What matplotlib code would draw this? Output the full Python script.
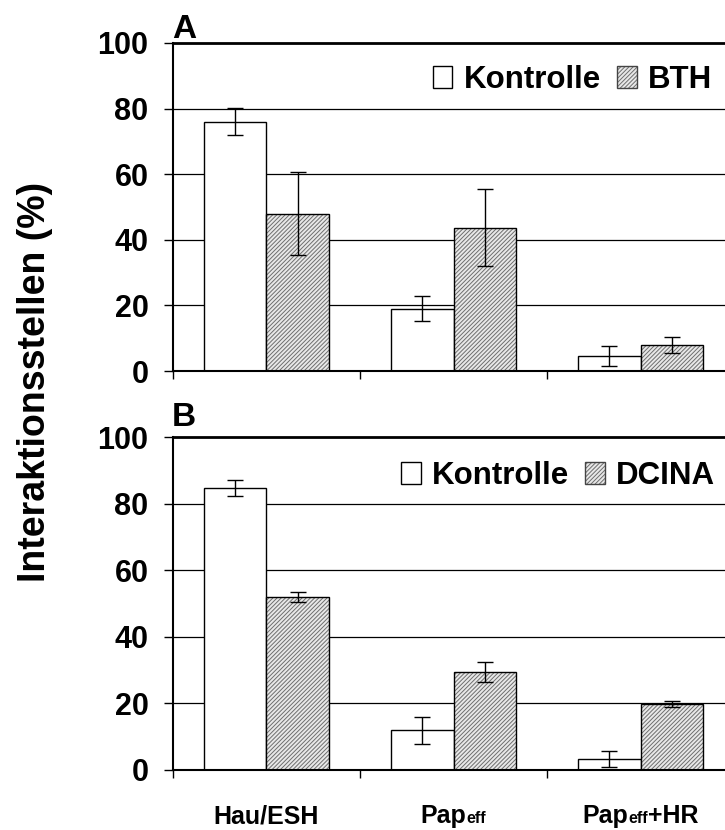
import matplotlib
matplotlib.use("Agg")
import matplotlib.pyplot as plt
from matplotlib.patches import Rectangle
from matplotlib.legend_handler import HandlerTuple
from matplotlib.transforms import IdentityTransform
import numpy as np

plt.rcParams['font.family'] = ['Liberation Sans', 'DejaVu Sans']
plt.rcParams['font.weight'] = 'bold'
plt.rcParams['hatch.linewidth'] = 0.7

# ---- data ----
# each category label: list of (text, is_subscript) pieces
categories = ['Hau/ESH', 'Papeff', 'Papeff+HR']
category_pieces = [
    [('Hau/ESH', False)],
    [('Pap', False), ('eff', True)],
    [('Pap', False), ('eff', True), ('+HR', False)],
]
yticks = [0, 20, 40, 60, 80, 100]

a_kontrolle = [76.0, 19.0, 4.5]
a_kontrolle_err = [4.2, 3.8, 3.0]
a_bth = [48.0, 43.7, 8.0]
a_bth_err = [12.6, 11.7, 2.4]

b_kontrolle = [84.9, 11.8, 3.3]
b_kontrolle_err = [2.4, 4.0, 2.4]
b_dcina = [52.0, 29.4, 19.7]
b_dcina_err = [1.4, 2.9, 0.9]

panels = [
    ('A', 'BTH', a_kontrolle, a_kontrolle_err, a_bth, a_bth_err),
    ('B', 'DCINA', b_kontrolle, b_kontrolle_err, b_dcina, b_dcina_err),
]

W, H = 725, 830
fig = plt.figure(figsize=(W / 100, H / 100), dpi=100)

ax_left = 172.7 / W
ax_width = 1 - ax_left
rects = [
    (ax_left, (H - 371) / H, ax_width, 328 / H),
    (ax_left, (H - 769.5) / H, ax_width, 332 / H),
]
label_pos = [(172 / W, (H - 38) / H), (172 / W, (H - 426) / H)]
legend_pos = [(0.9765, 0.887), (0.982, 0.884)]

hatch_face = '#e8e8e8'
hatch_col = '#6e6e6e'
hatch_pat = '////////'
bw = 0.335
x = np.arange(len(categories))
axes = []

for i, (lab, treat, kv, ke, tv, te) in enumerate(panels):
    ax = fig.add_axes(rects[i])
    axes.append(ax)
    ax.set_xlim(-0.5, 2.45)
    ax.set_ylim(0, 100)
    for g in yticks[1:-1]:
        ax.axhline(g, color='black', lw=0.9, zorder=0)
    ax.bar(x - bw / 2, kv, width=bw, facecolor='white', edgecolor='black',
           lw=1.0, zorder=2)
    ax.bar(x + bw / 2, tv, width=bw, facecolor=hatch_face, edgecolor=hatch_col,
           hatch=hatch_pat, lw=0, zorder=2)
    ax.bar(x + bw / 2, tv, width=bw, fill=False, edgecolor='black',
           lw=1.0, zorder=3)
    ax.errorbar(x - bw / 2, kv, yerr=ke, fmt='none', ecolor='black',
                elinewidth=1.0, capsize=5.5, capthick=1.0, zorder=4)
    ax.errorbar(x + bw / 2, tv, yerr=te, fmt='none', ecolor='black',
                elinewidth=1.0, capsize=5.5, capthick=1.0, zorder=4)

    ax.spines['right'].set_visible(False)
    ax.spines['top'].set_linewidth(2.0)
    ax.spines['left'].set_linewidth(1.5)
    ax.spines['bottom'].set_linewidth(1.5)

    ax.set_yticks(yticks)
    ax.set_yticklabels([str(t) for t in yticks], fontsize=22, fontweight='bold')
    ax.tick_params(axis='y', direction='out', length=6.5, width=1.0, pad=11)

    ax.set_xticks([-0.5, 0.5, 1.5])
    ax.set_xticklabels([])
    ax.tick_params(axis='x', which='major', direction='out', length=6, width=1.0)

    h_k = Rectangle((0, 0), 1, 1, facecolor='white', edgecolor='black', lw=1.0)
    h_t1 = Rectangle((0, 0), 1, 1, facecolor=hatch_face, edgecolor=hatch_col,
                     hatch=hatch_pat, lw=0)
    h_t2 = Rectangle((0, 0), 1, 1, fill=False, edgecolor='#444444', lw=1.0)
    ax.legend([h_k, (h_t1, h_t2)], ['Kontrolle', treat],
              handler_map={tuple: HandlerTuple(ndivide=1, pad=0)},
              loc='center right', bbox_to_anchor=legend_pos[i],
              ncol=2, frameon=False, borderpad=0, borderaxespad=0,
              handlelength=0.62, handleheight=0.69, handletextpad=0.36,
              columnspacing=0.52,
              prop={'family': 'Liberation Sans', 'weight': 'bold',
                    'size': 22.5})

    fig.text(label_pos[i][0], label_pos[i][1], lab, fontsize=24,
             fontweight='bold', ha='left', va='baseline')

fig.text(35 / W, (H - 382) / H, 'Interaktionsstellen (%)', rotation=90,
         fontsize=27, fontweight='bold', ha='center', va='center')

# category labels below panel B, built from pieces so "eff" is a small
# baseline-aligned subscript like in the reference
renderer = fig.canvas.get_renderer()
main_size, sub_size = 18, 11.5
baseline_y = H - 823  # display coords (origin bottom-left)
axb = axes[1]
for xc, pieces in zip(x, category_pieces):
    arts = []
    widths = []
    for s, is_sub in pieces:
        t = fig.text(0, baseline_y, s, fontsize=sub_size if is_sub else main_size,
                     fontweight='bold', ha='left', va='baseline',
                     transform=IdentityTransform())
        arts.append(t)
        widths.append(t.get_window_extent(renderer).width)
    total = sum(widths)
    cx = axb.transData.transform((xc, 0))[0]
    cur = cx - total / 2
    for t, w in zip(arts, widths):
        t.set_x(cur)
        cur += w

fig.savefig('out.png', dpi=100)
